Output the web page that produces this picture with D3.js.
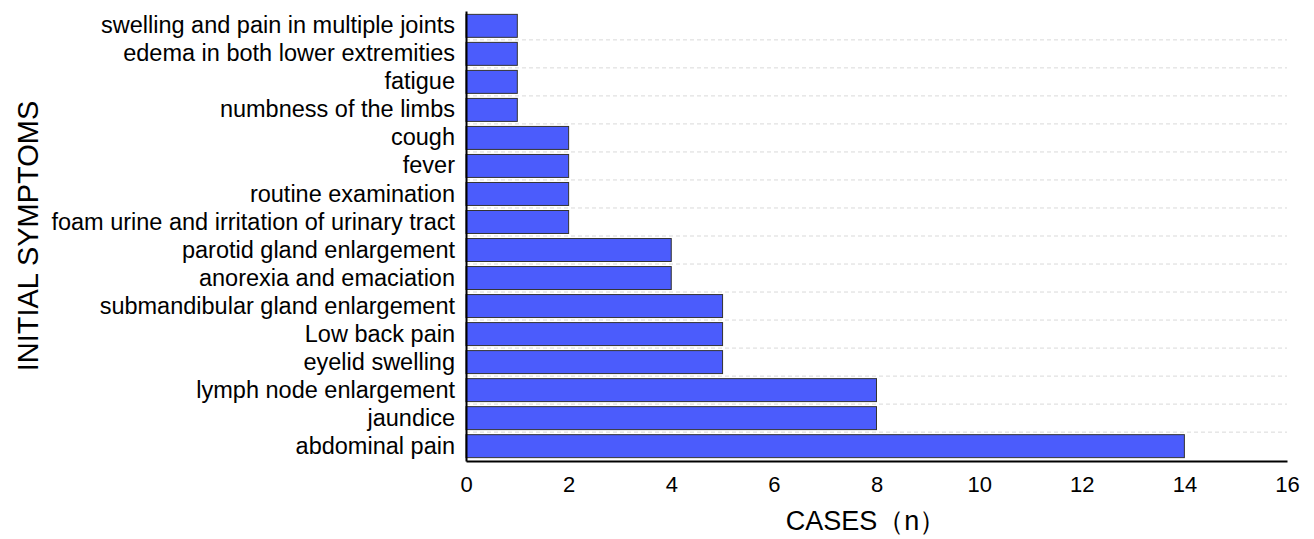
<!DOCTYPE html>
<html lang="en">
<head>
  <meta charset="UTF-8" />
  <title>Initial symptoms</title>
  <script src="https://d3js.org/d3.v7.min.js"></script>
  <style>
    body { margin: 0; background: #fff; font-family: "Liberation Sans", Arial, sans-serif; }
    svg { display: block; }
    .grid line { stroke: #d9d9d9; stroke-dasharray: 4 3; }
  </style>
</head>
<body>
  <svg id="chart" width="1314" height="539"></svg>

  <script>
    // symptoms, top to bottom
    const symptoms = [
      "swelling and pain in multiple joints",
      "edema in both lower extremities",
      "fatigue",
      "numbness of the limbs",
      "cough",
      "fever",
      "routine examination",
      "foam urine and irritation of urinary tract",
      "parotid gland enlargement",
      "anorexia and emaciation",
      "submandibular gland enlargement",
      "Low back pain",
      "eyelid swelling",
      "lymph node enlargement",
      "jaundice",
      "abdominal pain"
    ];
    const cases = [1, 1, 1, 1, 2, 2, 2, 2, 4, 4, 5, 5, 5, 8, 8, 14];
    const xTicks = [0, 2, 4, 6, 8, 10, 12, 14, 16];

    const svg = d3.select("#chart");
    const margin = { top: 11, right: 27, bottom: 78, left: 466 };
    const W = 1314, H = 539;

    const x = d3.scaleLinear()
      .domain([0, 16])
      .range([margin.left, W - margin.right]);

    const y = d3.scaleBand()
      .domain(symptoms)
      .range([margin.top, H - margin.bottom])
      .paddingInner(0.18)
      .paddingOuter(0.12);

    // dashed grid lines between the rows
    const step = y.step();
    svg.append("g")
      .attr("class", "grid")
      .selectAll("line")
      .data(symptoms.slice(1))
      .join("line")
      .attr("x1", x(0))
      .attr("x2", x(16))
      .attr("y1", d => y(d) - step * y.paddingInner() / 2)
      .attr("y2", d => y(d) - step * y.paddingInner() / 2);

    // bars
    svg.append("g")
      .selectAll("rect")
      .data(symptoms)
      .join("rect")
      .attr("x", x(0))
      .attr("y", d => y(d))
      .attr("width", (d, i) => x(cases[i]) - x(0))
      .attr("height", y.bandwidth())
      .attr("fill", "#4b5cfc")
      .attr("stroke", "#333")
      .attr("stroke-width", 1);

    // x axis
    const xAxis = svg.append("g")
      .attr("transform", `translate(0, ${H - margin.bottom})`)
      .call(d3.axisBottom(x).tickValues(xTicks).tickSize(0).tickPadding(15));
    xAxis.select(".domain").attr("stroke", "#000").attr("stroke-width", 2);
    xAxis.selectAll("text")
      .attr("font-family", "Liberation Sans, Arial, sans-serif")
      .attr("font-size", 22)
      .attr("fill", "#000");

    // y axis
    const yAxis = svg.append("g")
      .attr("transform", `translate(${margin.left}, 0)`)
      .call(d3.axisLeft(y).tickSize(0).tickPadding(11));
    yAxis.select(".domain").attr("stroke", "#000").attr("stroke-width", 2);
    yAxis.selectAll("text")
      .attr("font-family", "Liberation Sans, Arial, sans-serif")
      .attr("font-size", 23.5)
      .attr("fill", "#000");

    // axis titles
    svg.append("text")
      .attr("x", 866)
      .attr("y", 530)
      .attr("text-anchor", "middle")
      .attr("font-size", 27)
      .text("CASES（n）");

    svg.append("text")
      .attr("transform", `translate(38, 236) rotate(-90)`)
      .attr("text-anchor", "middle")
      .attr("font-size", 29)
      .text("INITIAL SYMPTOMS");
  </script>
</body>
</html>
